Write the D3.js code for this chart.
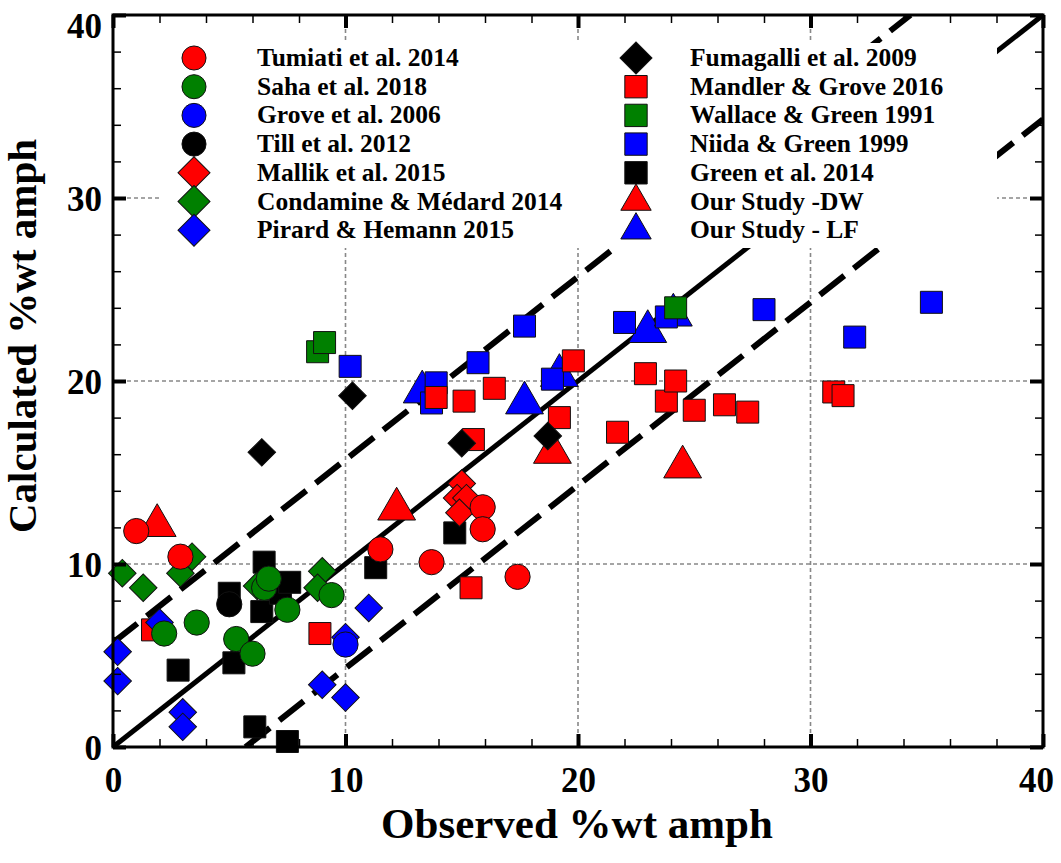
<!DOCTYPE html>
<html>
<head>
<meta charset="utf-8">
<script src="https://cdn.jsdelivr.net/npm/d3@7"></script>
<style>
  body { margin: 0; background: #fff; }
  svg { display: block; font-family: "Liberation Serif", "Times New Roman", serif; font-weight: bold; }
</style>
</head>
<body>
<svg id="chart" width="1061" height="863"></svg>
<script>
// [observed, calculated] pairs
const tumiati = [[1.0, 11.8], [2.9, 10.4], [11.5, 10.8], [13.7, 10.1], [15.9, 13.1], [15.9, 11.9], [17.4, 9.3]];
const saha = [[2.2, 6.2], [3.6, 6.8], [5.3, 5.9], [6.0, 5.1], [6.5, 8.7], [6.7, 9.2], [7.5, 7.5], [9.4, 8.3]];
const grove = [[10.0, 5.6]];
const till = [[5.0, 7.8]];
const mallik = [[15.0, 14.4], [14.8, 13.6], [15.2, 13.6], [14.9, 12.8]];
const condamine = [[0.4, 9.5], [1.3, 8.7], [2.9, 9.5], [3.4, 10.4], [6.2, 8.8], [9.0, 9.6], [8.8, 8.7]];
const pirard = [[0.2, 5.2], [0.2, 3.6], [2.0, 6.8], [3.0, 1.9], [3.0, 1.1], [9.0, 3.4], [10.0, 2.7], [10.0, 6.0], [11.0, 7.6]];
const fumagalli = [[6.4, 16.1], [10.3, 19.2], [15.0, 16.6], [18.7, 17.0]];
const mandler = [[1.7, 6.4], [8.9, 6.2], [13.9, 19.1], [15.1, 18.9], [16.4, 19.6], [15.5, 16.8], [15.4, 8.7], [19.2, 18.0],
  [19.8, 21.1], [21.7, 17.2], [22.9, 20.4], [23.8, 18.9], [24.2, 20.0], [25.0, 18.4], [26.3, 18.7], [27.3, 18.3], [31.0, 19.4], [31.4, 19.2]];
const wallace = [[8.8, 21.6], [9.1, 22.1], [24.2, 24.0]];
const niida = [[10.2, 20.8], [13.7, 18.8], [13.9, 19.9], [15.7, 21.0], [17.7, 23.0], [18.9, 20.1], [22.0, 23.2], [23.8, 23.5],
  [28.0, 23.9], [31.9, 22.4], [35.2, 24.3]];
const greenEtAl = [[2.8, 4.2], [5.0, 8.4], [5.2, 4.6], [6.1, 1.1], [6.4, 7.4], [6.5, 10.1], [7.2, 8.4], [7.6, 9.0], [7.5, 0.3],
  [11.3, 9.8], [14.7, 11.7]];
const ourDW = [[1.9, 12.1], [12.2, 13.0], [18.9, 16.1], [24.5, 15.3]];
const ourLF = [[13.3, 19.4], [17.7, 18.8], [19.2, 20.3], [23.0, 22.7], [24.1, 23.6]];

const majorTicks = [0, 10, 20, 30, 40];
const minorTicks = d3.range(0, 41, 2);
const gridValues = [10, 20, 30];
const offset = 5.7; // spacing of the dashed lines from 1:1

const RED = "#ff0000", GREEN = "#008000", BLUE = "#0000ff", BLACK = "#000000";

// legend columns, in legend order
const leftLegend = [
  { name: "Tumiati et al. 2014", data: tumiati, shape: "circle", color: RED },
  { name: "Saha et al. 2018", data: saha, shape: "circle", color: GREEN },
  { name: "Grove et al. 2006", data: grove, shape: "circle", color: BLUE },
  { name: "Till et al. 2012", data: till, shape: "circle", color: BLACK },
  { name: "Mallik et al. 2015", data: mallik, shape: "diamond", color: RED },
  { name: "Condamine & Médard 2014", data: condamine, shape: "diamond", color: GREEN },
  { name: "Pirard & Hemann 2015", data: pirard, shape: "diamond", color: BLUE }
];
const rightLegend = [
  { name: "Fumagalli et al. 2009", data: fumagalli, shape: "diamond", color: BLACK },
  { name: "Mandler & Grove 2016", data: mandler, shape: "square", color: RED },
  { name: "Wallace & Green 1991", data: wallace, shape: "square", color: GREEN },
  { name: "Niida & Green 1999", data: niida, shape: "square", color: BLUE },
  { name: "Green et al. 2014", data: greenEtAl, shape: "square", color: BLACK },
  { name: "Our Study -DW", data: ourDW, shape: "triangle", color: RED },
  { name: "Our Study - LF", data: ourLF, shape: "triangle", color: BLUE }
];

const svg = d3.select("#chart");
const pl = 113, pr = 1043, pt = 15, pb = 747;
const x = d3.scaleLinear().domain([0, 40]).range([pl, pr]);
const y = d3.scaleLinear().domain([0, 40]).range([pb, pt]);

svg.append("clipPath").attr("id", "plotclip")
  .append("rect").attr("x", pl).attr("y", pt).attr("width", pr - pl).attr("height", pb - pt);

// grid
const grid = svg.append("g").attr("stroke", "#888").attr("stroke-width", 1.6).attr("stroke-dasharray", "4,3");
grid.selectAll(".gx").data(gridValues).join("line").attr("class", "gx")
  .attr("x1", d => x(d)).attr("x2", d => x(d)).attr("y1", pt).attr("y2", pb);
grid.selectAll(".gy").data(gridValues).join("line").attr("class", "gy")
  .attr("y1", d => y(d)).attr("y2", d => y(d)).attr("x1", pl).attr("x2", pr);

// 1:1 line and the two offset lines
const refLines = [
  { pts: [[0, 0], [40, 40]], dash: null, w: 5 },
  { pts: [[0, offset], [40 - offset, 40]], dash: "31,12", w: 6 },
  { pts: [[offset, 0], [40, 40 - offset]], dash: "31,12", w: 6 }
];
const lineGen = d3.line().x(d => x(d[0])).y(d => y(d[1]));
svg.append("g").attr("clip-path", "url(#plotclip)")
  .selectAll("path").data(refLines).join("path")
  .attr("d", d => lineGen(d.pts))
  .attr("fill", "none").attr("stroke", "#000")
  .attr("stroke-width", d => d.w)
  .attr("stroke-dasharray", d => d.dash);

// legend background hides grid and lines under it
svg.append("rect").attr("x", 160).attr("y", 43).attr("width", 837).attr("height", 205).attr("fill", "#fff");

function symbolPath(shape, big) {
  if (shape === "circle") return d3.symbol(d3.symbolCircle, big ? 455 : 500)();
  if (shape === "square") return d3.symbol(d3.symbolSquare, big ? 500 : 484)();
  if (shape === "diamond") return d3.symbol(d3.symbolSquare, big ? 512 : 380)();
  return d3.symbol(d3.symbolTriangle, big ? 400 : 620)();
}

// markers, drawn triangles -> squares -> diamonds -> circles
const drawOrder = [
  rightLegend[5], rightLegend[6],
  rightLegend[3], rightLegend[4], rightLegend[2], rightLegend[1],
  leftLegend[6], leftLegend[5], leftLegend[4], rightLegend[0],
  leftLegend[3], leftLegend[2], leftLegend[1], leftLegend[0]
];
const marks = svg.append("g");
drawOrder.forEach(s => {
  marks.append("g").selectAll("path").data(s.data).join("path")
    .attr("d", symbolPath(s.shape, false))
    .attr("transform", d => `translate(${x(d[0])},${y(d[1])})` + (s.shape === "diamond" ? " rotate(45)" : ""))
    .attr("fill", s.color).attr("stroke", "#111").attr("stroke-width", 1);
});

// legend
function drawLegend(items, mx, tx) {
  const g = svg.append("g");
  items.forEach((s, i) => {
    const cy = 58 + i * 28.7;
    g.append("path").attr("d", symbolPath(s.shape, true))
      .attr("transform", `translate(${mx},${cy})` + (s.shape === "diamond" ? " rotate(45)" : ""))
      .attr("fill", s.color).attr("stroke", "#111").attr("stroke-width", 1);
    g.append("text").attr("x", tx).attr("y", cy + 8).attr("font-size", 25.5).text(s.name);
  });
}
drawLegend(leftLegend, 194, 257);
drawLegend(rightLegend, 636, 690);

// axes: minor ticks on all sides, major ticks with labels
function axisStyle(g) {
  g.attr("font-family", null).attr("font-size", null);
  g.select(".domain").remove();
  g.selectAll("line").attr("stroke", "#000");
}
const minor = 8, major = 13;
svg.append("g").attr("transform", `translate(0,${pb})`)
  .call(d3.axisBottom(x).tickValues(minorTicks).tickSize(-minor).tickFormat(""))
  .call(axisStyle).selectAll("line").attr("stroke-width", 1.5);
svg.append("g").attr("transform", `translate(0,${pt})`)
  .call(d3.axisTop(x).tickValues(minorTicks).tickSize(-minor).tickFormat(""))
  .call(axisStyle).selectAll("line").attr("stroke-width", 1.5);
svg.append("g").attr("transform", `translate(${pl},0)`)
  .call(d3.axisLeft(y).tickValues(minorTicks).tickSize(-minor).tickFormat(""))
  .call(axisStyle).selectAll("line").attr("stroke-width", 1.5);
svg.append("g").attr("transform", `translate(${pr},0)`)
  .call(d3.axisRight(y).tickValues(minorTicks).tickSize(-minor).tickFormat(""))
  .call(axisStyle).selectAll("line").attr("stroke-width", 1.5);

const xMajor = svg.append("g").attr("transform", `translate(0,${pb})`)
  .call(d3.axisBottom(x).tickValues(majorTicks).tickSize(-major).tickPadding(0).tickFormat(d3.format("d")))
  .call(axisStyle);
xMajor.selectAll("line").attr("stroke-width", 4);
xMajor.selectAll("text").attr("font-size", 35).attr("fill", "#000")
  .attr("y", 45).attr("dy", null).attr("dx", d => d === 40 ? -7 : 0);

const yMajor = svg.append("g").attr("transform", `translate(${pl},0)`)
  .call(d3.axisLeft(y).tickValues(majorTicks).tickSize(-major).tickPadding(11).tickFormat(d3.format("d")))
  .call(axisStyle);
yMajor.selectAll("line").attr("stroke-width", 4);
yMajor.selectAll("text").attr("font-size", 35).attr("fill", "#000")
  .attr("dy", d => d === 40 ? "0.65em" : "0.35em");

svg.append("g").attr("transform", `translate(0,${pt})`)
  .call(d3.axisTop(x).tickValues(majorTicks).tickSize(-major).tickFormat(""))
  .call(axisStyle).selectAll("line").attr("stroke-width", 4);
svg.append("g").attr("transform", `translate(${pr},0)`)
  .call(d3.axisRight(y).tickValues(majorTicks).tickSize(-major).tickFormat(""))
  .call(axisStyle).selectAll("line").attr("stroke-width", 4);

// frame
svg.append("rect").attr("x", pl).attr("y", pt).attr("width", pr - pl).attr("height", pb - pt)
  .attr("fill", "none").attr("stroke", "#000").attr("stroke-width", 3);

// titles
svg.append("text").attr("x", 577).attr("y", 838).attr("text-anchor", "middle")
  .attr("font-size", 43).text("Observed %wt amph");
svg.append("text").attr("transform", `translate(36,${(pt + pb) / 2 - 45}) rotate(-90)`)
  .attr("text-anchor", "middle").attr("font-size", 41).text("Calculated %wt amph");
</script>
</body>
</html>
